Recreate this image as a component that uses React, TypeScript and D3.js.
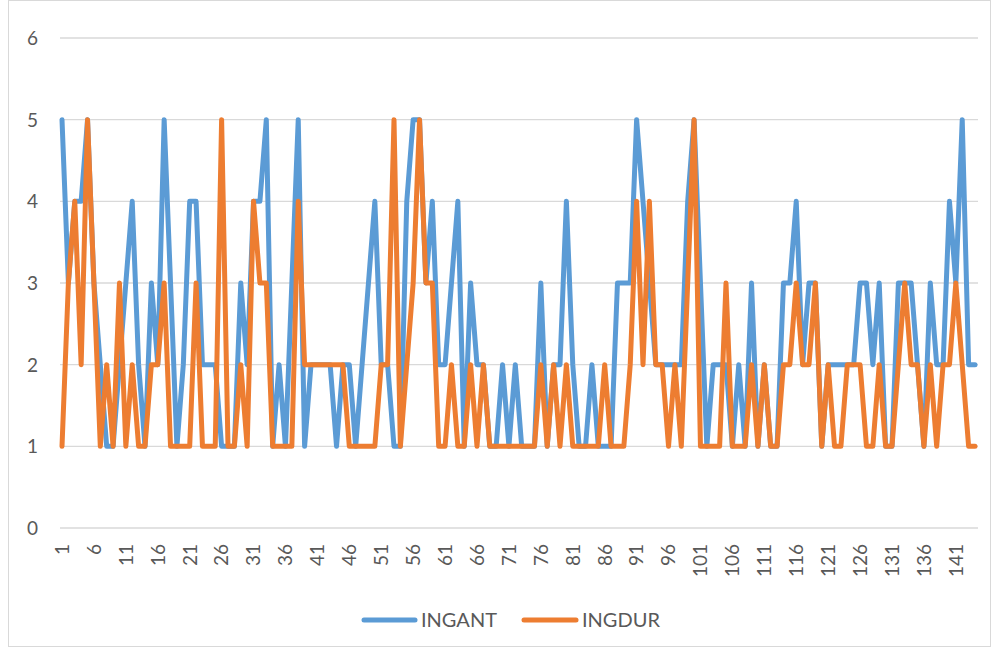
import * as d3 from 'd3'

// category index 1..144 (x axis)
const categories: number[] = d3.range(1, 145)

const ingant: number[] = [
  5, 3, 4, 4, 5, 3, 2, 1, 1, 2, 3, 4, 2, 1, 3, 2, 5, 3, 1, 2,
  4, 4, 2, 2, 2, 1, 1, 1, 3, 2, 4, 4, 5, 1, 2, 1, 3, 5, 1, 2,
  2, 2, 2, 1, 2, 2, 1, 2, 3, 4, 2, 2, 1, 1, 4, 5, 5, 3, 4, 2,
  2, 3, 4, 1, 3, 2, 2, 1, 1, 2, 1, 2, 1, 1, 1, 3, 1, 2, 2, 4,
  2, 1, 1, 2, 1, 1, 1, 3, 3, 3, 5, 4, 3, 2, 2, 2, 2, 2, 4, 5,
  3, 1, 2, 2, 2, 1, 2, 1, 3, 1, 2, 1, 1, 3, 3, 4, 2, 3, 3, 1,
  2, 2, 2, 2, 2, 3, 3, 2, 3, 1, 1, 3, 3, 3, 2, 1, 3, 2, 2, 4,
  3, 5, 2, 2,
]

const ingdur: number[] = [
  1, 3, 4, 2, 5, 3, 1, 2, 1, 3, 1, 2, 1, 1, 2, 2, 3, 1, 1, 1,
  1, 3, 1, 1, 1, 5, 1, 1, 2, 1, 4, 3, 3, 1, 1, 1, 1, 4, 2, 2,
  2, 2, 2, 2, 2, 1, 1, 1, 1, 1, 2, 2, 5, 1, 2, 3, 5, 3, 3, 1,
  1, 2, 1, 1, 2, 1, 2, 1, 1, 1, 1, 1, 1, 1, 1, 2, 1, 2, 1, 2,
  1, 1, 1, 1, 1, 2, 1, 1, 1, 2, 4, 2, 4, 2, 2, 1, 2, 1, 3, 5,
  1, 1, 1, 1, 3, 1, 1, 1, 2, 1, 2, 1, 1, 2, 2, 3, 2, 2, 3, 1,
  2, 1, 1, 2, 2, 2, 1, 1, 2, 1, 1, 2, 3, 2, 2, 1, 2, 1, 2, 2,
  3, 2, 1, 1,
]

const yTicks: number[] = [0, 1, 2, 3, 4, 5, 6]
const xTickLabels: number[] = [1, 6, 11, 16, 21, 26, 31, 36, 41, 46, 51, 56, 61, 66, 71, 76, 81, 86, 91, 96, 101, 106, 111, 116, 121, 126, 131, 136, 141]

const seriesNames = ['INGANT', 'INGDUR']
const seriesColors = ['#5b9bd5', '#ed7d31']

const width = 992
const height = 651
const plotLeft = 60
const plotRight = 978
const fontFamily = 'Lato, "Open Sans", sans-serif'
const textColor = '#595959'
const gridColor = '#d9d9d9'

export default function App() {
  const x = d3.scalePoint<number>().domain(categories).range([62, 975])
  const y = d3.scaleLinear().domain([0, 6]).range([528, 38])

  const line = d3
    .line<number>()
    .x((d, i) => x(categories[i]) as number)
    .y((d) => y(d))

  const series = [ingant, ingdur]

  return (
    <svg
      width={width}
      height={height}
      viewBox={`0 0 ${width} ${height}`}
      style={{ position: 'absolute', left: 0, top: 0, background: '#fff' }}
    >
      <rect x={8.5} y={0.5} width={982} height={646} fill="#fff" stroke={gridColor} />

      {yTicks.map((t) => (
        <g key={t}>
          <line x1={plotLeft} x2={plotRight} y1={y(t)} y2={y(t)} stroke={gridColor} strokeWidth={1.3} />
          <text
            x={38}
            y={y(t)}
            dy="0.36em"
            textAnchor="end"
            fontSize={19}
            fill={textColor}
            fontFamily={fontFamily}
          >
            {t}
          </text>
        </g>
      ))}

      {xTickLabels.map((c) => (
        <text
          key={c}
          transform={`translate(${x(c)},544) rotate(-90)`}
          dy="0.36em"
          textAnchor="end"
          fontSize={19}
          fill={textColor}
          fontFamily={fontFamily}
        >
          {c}
        </text>
      ))}

      {series.map((s, k) => (
        <path
          key={seriesNames[k]}
          d={line(s) || undefined}
          fill="none"
          stroke={seriesColors[k]}
          strokeWidth={5}
          strokeLinejoin="round"
          strokeLinecap="round"
        />
      ))}

      <g fontFamily={fontFamily} fontSize={20} fill={textColor}>
        <line x1={364} x2={415} y1={620} y2={620} stroke={seriesColors[0]} strokeWidth={5} strokeLinecap="round" />
        <text x={421} y={620} dy="0.36em">{seriesNames[0]}</text>
        <line x1={524} x2={576} y1={620} y2={620} stroke={seriesColors[1]} strokeWidth={5} strokeLinecap="round" />
        <text x={582} y={620} dy="0.36em">{seriesNames[1]}</text>
      </g>
    </svg>
  )
}
